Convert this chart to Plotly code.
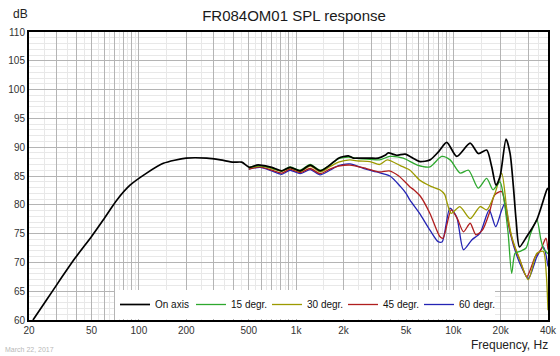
import plotly.graph_objects as go
import numpy as np

# ---------------- data ----------------
f_on = [21.2, 25.9, 30, 39.2, 50, 59.4, 72.3, 87.8, 112, 143, 200, 270, 330, 399, 451, 504, 562,
        590, 700, 810, 915, 1060, 1230, 1420, 1640, 1860, 2150, 2310, 2490, 2950, 3330, 3680, 3860,
        4365, 4935, 5700, 6140, 7110, 8040, 9080, 10510, 12780, 14430, 16300, 17540, 18680, 19820,
        21640, 22960, 24100, 25060, 26330, 29330, 33950, 39300, 40000]
db_on = [60.0, 63.5, 66.1, 70.7, 74.5, 77.4, 80.8, 83.4, 85.5, 87.2, 88.1, 88.1, 87.8, 87.4, 87.4, 86.5, 86.9,
         86.9, 86.5, 85.9, 86.5, 85.9, 86.9, 85.9, 86.9, 88.1, 88.5, 88.1, 88.1, 88.1, 88.1, 88.6, 89.0,
         88.6, 88.8, 87.9, 87.5, 87.8, 89.2, 90.85, 88.4, 90.7, 88.9, 89.5, 86.6, 83.4, 84.9,
         91.4, 88.9, 83.1, 77.4, 72.7, 74.5, 77.4, 82.6, 82.9]

f_15 = [500, 590, 700, 810, 915, 1060, 1230, 1420, 1640, 1860, 2150, 2490, 2950, 3400, 3950, 4800,
        5900, 7100, 8430, 9540, 11040, 12500, 14400, 16300, 17900, 19800, 20700, 22300, 23500, 24700,
        26500, 29000, 31000, 34000, 36000, 37400, 40000]
db_15 = [86.5, 86.8, 86.4, 85.9, 86.6, 86.0, 87.0, 86.0, 86.9, 88.0, 88.3, 88.0, 87.9, 87.8, 88.4, 88.1,
         86.9, 86.6, 88.4, 87.8, 85.5, 86.0, 82.9, 84.6, 82.6, 84.0, 82.0, 75.1, 68.1, 71.6,
         71.9, 72.5, 75.0, 77.4, 74.0, 72.4, 71.5]

f_30 = [500, 590, 700, 810, 915, 1060, 1230, 1420, 1640, 1860, 2200, 2490, 2950, 3400, 3800, 4600,
        5300, 6100, 7200, 8200, 8800, 9200, 9700, 11000, 12800, 14800, 16300, 18400, 20300, 21900,
        23500, 26500, 30000, 34000, 37400, 39000, 40000]
db_30 = [86.4, 86.7, 86.3, 85.8, 86.4, 85.8, 86.7, 85.7, 86.6, 87.4, 87.8, 87.6, 87.5, 87.0, 87.8, 86.8,
         86.0, 84.3, 83.2, 82.6, 81.8, 80.0, 78.5, 79.7, 77.6, 79.7, 79.1, 82.0, 85.5, 79.1,
         74.5, 70.4, 67.0, 71.6, 71.9, 68.0, 61.7]

f_45 = [500, 590, 700, 810, 915, 1060, 1230, 1420, 1640, 1860, 2200, 2800, 3400, 3900, 4500, 5300,
        5600, 6200, 7100, 8200, 8600, 9700, 10600, 11600, 12800, 13900, 15300, 16900, 18300, 20300,
        21900, 24100, 26500, 29300, 33200, 36000, 38800, 40000]
db_45 = [86.2, 86.6, 86.0, 85.5, 86.2, 85.6, 86.3, 85.4, 86.2, 86.7, 86.9, 86.3, 85.7, 85.9, 85.0, 83.1,
         82.6, 81.4, 78.5, 74.5, 74.2, 79.1, 77.6, 75.3, 76.8, 74.8, 75.6, 78.5, 81.7, 82.3,
         77.9, 73.3, 70.4, 67.5, 71.0, 72.2, 74.2, 72.2]

f_60 = [500, 590, 700, 810, 915, 1060, 1230, 1420, 1640, 1860, 2200, 2700, 3250, 3950, 4600, 5000,
        5300, 6100, 7100, 8000, 8500, 9500, 10500, 11600, 13100, 14800, 16900, 18600, 20300, 21300,
        23000, 26500, 30000, 34000, 37400, 40000]
db_60 = [86.2, 86.5, 85.9, 85.3, 86.0, 85.4, 86.1, 85.2, 86.0, 86.8, 87.1, 86.3, 85.7, 85.0, 83.2, 82.0,
         80.8, 78.5, 75.6, 73.6, 73.6, 79.4, 77.9, 72.2, 73.9, 75.1, 79.1, 76.2, 79.1, 80.3,
         75.1, 69.8, 67.2, 71.0, 72.7, 69.3]

series_names = ["On axis", "15 degr.", "30 degr.", "45 degr.", "60 degr."]
series_colors = ["#000000", "#2ea82e", "#9c9a00", "#b01e1e", "#2424b4"]

x_tick_vals = [20, 50, 100, 200, 500, 1000, 2000, 5000, 10000, 20000, 40000]
x_tick_text = ["20", "50", "100", "200", "500", "1k", "2k", "5k", "10k", "20k", "40k"]
y_tick_vals = [60, 65, 70, 75, 80, 85, 90, 95, 100, 105, 110]

# ---------------- geometry of the plot area (pixels) ----------------
W, H = 560, 356
PL, PR, PT, PB = 29, 548, 32, 320


def px(xp):
    return (xp - PL) / (PR - PL)


def py(yp):
    return (PB - yp) / (PB - PT)


# ---------------- figure ----------------
fig = go.Figure()
all_f = [f_on, f_15, f_30, f_45, f_60]
all_db = [db_on, db_15, db_30, db_45, db_60]
for i in [4, 3, 2, 1, 0]:  # black drawn last (on top)
    fig.add_trace(go.Scatter(
        x=all_f[i], y=all_db[i], mode="lines", name=series_names[i],
        line=dict(color=series_colors[i], width=1.7 if i == 0 else 1.3, shape="spline", smoothing=0.7),
        legendrank=i + 1,
    ))

# grid: darker lines at n*10^k, lighter at (n+0.5)*10^k
major_grid = []
minor_grid = []
for k in [1, 2, 3, 4]:
    for n in range(1, 10):
        v = n * 10 ** k
        if 20 <= v <= 40000:
            major_grid.append(v)
        w = (n + 0.5) * 10 ** k
        if 20 < w < 40000:
            minor_grid.append(w)
label_map = dict(zip(x_tick_vals, x_tick_text))

fig.update_xaxes(
    type="log", range=[np.log10(20), np.log10(40000)],
    tickmode="array", tickvals=major_grid,
    ticktext=[label_map.get(v, "") for v in major_grid],
    showgrid=True, gridcolor="#b4b4b4", gridwidth=1,
    minor=dict(tickmode="array", tickvals=minor_grid, showgrid=True, gridcolor="#e8e8e8", gridwidth=1, ticks=""),
    ticks="", showline=True, linecolor="black", linewidth=2, mirror=True,
    tickfont=dict(family="Liberation Sans, Arial", size=10, color="#333333"),
    zeroline=False,
)
fig.update_yaxes(
    range=[60, 110], tickmode="array", tickvals=y_tick_vals,
    showgrid=True, gridcolor="#b4b4b4", gridwidth=1,
    minor=dict(dtick=1, showgrid=True, gridcolor="#e8e8e8", gridwidth=1, ticks=""),
    ticks="", showline=True, linecolor="black", linewidth=2, mirror=True,
    tickfont=dict(family="Liberation Sans, Arial", size=10, color="#333333"),
    zeroline=False,
)

fig.update_layout(
    width=W, height=H,
    margin=dict(l=PL, r=W - PR, t=PT, b=H - PB, autoexpand=False),
    paper_bgcolor="white", plot_bgcolor="white",
    title=dict(text="FR084OM01 SPL response", x=294 / W, xanchor="center",
               y=1 - 16 / H, yanchor="middle",
               font=dict(family="Liberation Sans, Arial", size=15, color="#1a1a1a")),
    showlegend=True,
    legend=dict(orientation="h", x=px(115), xanchor="left", y=py(304.5), yanchor="middle",
                bgcolor="white", borderwidth=0,
                font=dict(family="Liberation Sans, Arial", size=10, color="#111111"),
                entrywidth=31, entrywidthmode="pixels", traceorder="normal"),
    annotations=[
        dict(text="dB", x=px(11), y=py(14), xref="paper", yref="paper", xanchor="left", yanchor="middle",
             showarrow=False, font=dict(family="Liberation Sans, Arial", size=12, color="#222222")),
        dict(text="Frequency, Hz", x=px(550), y=py(345), xref="paper", yref="paper", xanchor="right",
             yanchor="middle", showarrow=False, font=dict(family="Liberation Sans, Arial", size=12, color="#222222")),
        dict(text="March 22, 2017", x=px(3), y=py(349), xref="paper", yref="paper", xanchor="left",
             yanchor="middle", showarrow=False, font=dict(family="Liberation Sans, Arial", size=7, color="#b8b8b8")),
    ],
)

fig.write_html("out.html", config={"displayModeBar": False},
               post_script="document.body.style.margin='0';document.body.style.padding='0';")
